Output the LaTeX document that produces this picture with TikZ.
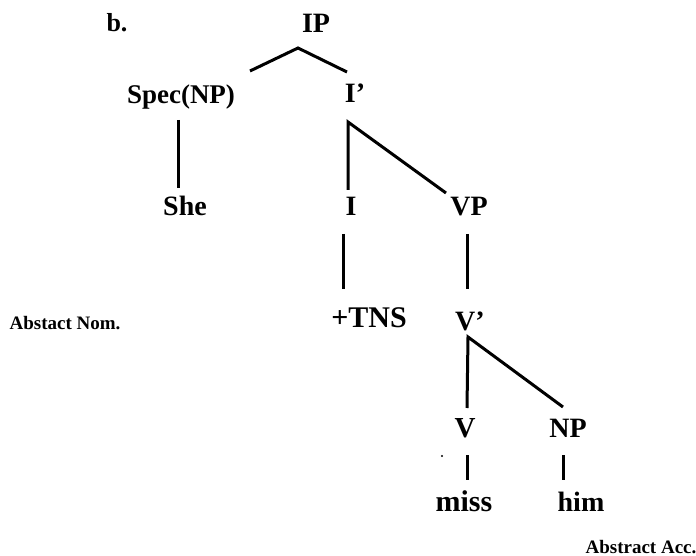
\documentclass[tikz,border=0pt]{standalone}
\usepackage{fontspec}
\setmainfont{Liberation Serif}
\begin{document}
\begin{tikzpicture}[x=1pt,y=-1pt,
  lab/.style={font=\bfseries\fontsize{#1}{#1}\selectfont, anchor=base, inner sep=0pt},
  lab/.default=28,
  note/.style={font=\bfseries\fontsize{19}{22}\selectfont, anchor=base, inner sep=0pt},
  edge/.style={line width=3pt}]
\useasboundingbox (0,0) rectangle (696,556);
% labels
\node[lab=26] (b) at (117,32) {b.};
\node[lab] (IP) at (316,33) {IP};
\node[lab=27] (Spec) at (181,104) {Spec(NP)};
\node[lab] (Ib) at (355,103) {I'};
\node[lab] (She) at (185,216) {She};
\node[lab] (I) at (351,216) {I};
\node[lab] (VP) at (469,216) {VP};
\node[lab=30] (TNS) at (369,327) {+TNS};
\node[lab] (Vb) at (470,330) {V'};
\node[note] (Nom) at (65,329) {Abstact Nom.};
\node[lab=29] (V) at (465,437) {V};
\node[lab] (NP) at (568,437) {NP};
\node[lab=30] (miss) at (464,511) {miss};
\node[lab] (him) at (581,511) {him};
\node[note] (Acc) at (641,553) {Abstract Acc.};
% connector end points
\coordinate (ipA) at (298,48);
\coordinate (specT) at (250,71);
\coordinate (ibT) at (347,72);
\coordinate (specB) at (178,120);
\coordinate (sheT) at (178,188);
\coordinate (ibA) at (348,122);
\coordinate (iT) at (348,190);
\coordinate (vpT) at (446,193);
\coordinate (iB) at (343,234);
\coordinate (tnsT) at (343,289);
\coordinate (vpB) at (467,234);
\coordinate (vbT) at (467,289);
\coordinate (vbA) at (468,337);
\coordinate (vT) at (467,408);
\coordinate (npT) at (563,407);
\coordinate (vB) at (467,455);
\coordinate (missT) at (467,480);
\coordinate (npB) at (563,455);
\coordinate (himT) at (563,480);
% connectors
\draw[edge] (specT) -- (ipA) -- (ibT);
\draw[edge] (specB) -- (sheT);
\draw[edge] (iT) -- (ibA) -- (vpT);
\draw[edge] (iB) -- (tnsT);
\draw[edge] (vpB) -- (vbT);
\draw[edge] (vT) -- (vbA) -- (npT);
\draw[edge] (vB) -- (missT);
\draw[edge] (npB) -- (himT);
\fill (442,456) circle (1.2pt);
\end{tikzpicture}
\end{document}
